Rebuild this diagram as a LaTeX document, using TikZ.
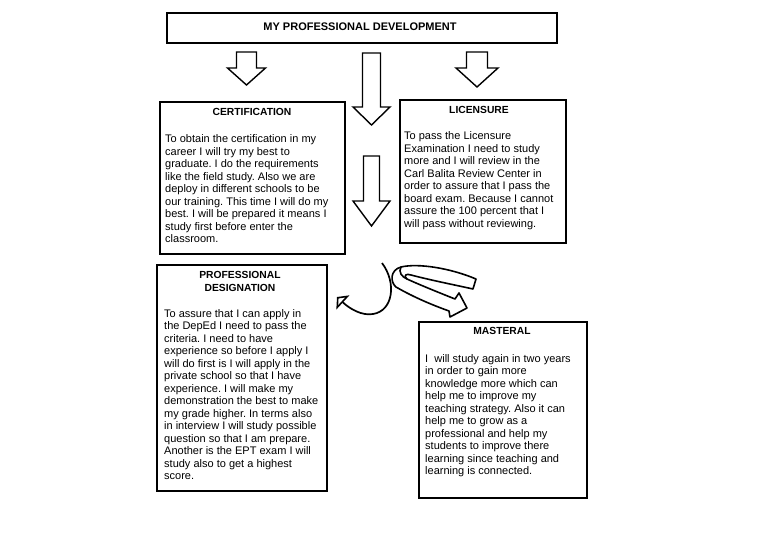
\documentclass[tikz,border=0pt]{standalone}
\usepackage{fontspec}
\setmainfont{Liberation Sans}
\usetikzlibrary{arrows.meta}
\frenchspacing
\tikzset{
  box/.style={draw, line width=2pt, anchor=north west, inner sep=0pt},
  headtext/.style={font=\fontsize{10.3}{13}\selectfont\bfseries, align=center, inner sep=0pt},
  titletext/.style={font=\fontsize{11}{13}\selectfont\bfseries, inner sep=0pt},
  bodytext/.style={font=\fontsize{11}{12.5}\selectfont, align=left, anchor=north west, inner sep=0pt},
  blockarrow/.style={draw, line width=1.4pt, fill=white, line join=miter},
  ribbon/.style={draw, line width=1.6pt, fill=white, line join=round},
  curvearrow/.style={line width=1.7pt, -{Triangle[open, length=8pt, width=19pt, line width=1.6pt]}}
}
\newcommand\mydownarrow[6]{% x, ytop, shaft half, head half, yhead, ytip
  \draw[blockarrow] (#1-#3,#2) -- (#1+#3,#2) -- (#1+#3,#5) -- (#1+#4,#5) -- (#1,#6) -- (#1-#4,#5) -- (#1-#3,#5) -- cycle;}
\begin{document}
\begin{tikzpicture}[x=1pt,y=-1pt]
\useasboundingbox (0,0) rectangle (768,543);

% title
\node[box, minimum width=390pt, minimum height=30pt] (title) at (166,12) {};
\node[titletext] (titlelabel) at (360,27) {MY PROFESSIONAL DEVELOPMENT};

% block arrows
\mydownarrow{246.5}{52}{10}{19}{68}{85}
\mydownarrow{371.5}{53}{9}{18.5}{107}{125}
\mydownarrow{477}{52}{10.5}{21}{68}{87}
\mydownarrow{371.5}{156}{8}{18.5}{201}{226}

% certification
\node[box, minimum width=185pt, minimum height=152pt] (cert) at (159,101) {};
\node[headtext] (certhead) at (252,112) {CERTIFICATION};
\node[bodytext] (certbody) at (165,134.5) {To obtain the certification in my\\
career I will try my best to\\
graduate. I do the requirements\\
like the field study. Also we are\\
deploy in different schools to be\\
our training. This time I will do my\\
best. I will be prepared it means I\\
study first before enter the\\
classroom.};

% licensure
\node[box, minimum width=166pt, minimum height=143pt] (lic) at (399,99) {};
\node[headtext] (lichead) at (479,110) {LICENSURE};
\node[bodytext] (licbody) at (404,131.5) {To pass the Licensure\\
Examination I need to study\\
more and I will review in the\\
Carl Balita Review Center in\\
order to assure that I pass the\\
board exam. Because I cannot\\
assure the 100 percent that I\\
will pass without reviewing.};

% professional designation
\node[box, minimum width=170pt, minimum height=226pt] (prof) at (156,264) {};
\node[headtext] (profhead) at (240,281.5) {PROFESSIONAL\\DESIGNATION};
\node[bodytext] (profbody) at (164,309) {To assure that I can apply in\\
the DepEd I need to pass the\\
criteria. I need to have\\
experience so before I apply I\\
will do first is I will apply in the\\
private school so that I have\\
experience. I will make my\\
demonstration the best to make\\
my grade higher. In terms also\\
in interview I will study possible\\
question so that I am prepare.\\
Another is the EPT exam I will\\
study also to get a highest\\
score.};

% masteral
\node[box, minimum width=168pt, minimum height=176pt] (mast) at (418,321) {};
\node[headtext] (masthead) at (502,331) {MASTERAL};
\node[bodytext] (mastbody) at (425,354) {I\ \ will study again in two years\\
in order to gain more\\
knowledge more which can\\
help me to improve my\\
teaching strategy. Also it can\\
help me to grow as a\\
professional and help my\\
students to improve there\\
learning since teaching and\\
learning is connected.};

% curved arrow to the left
\coordinate (cstart) at (382,263);
\coordinate (cend) at (337,297);
\draw[curvearrow] (cstart) .. controls (397,283) and (393,311) .. (373,314)
  .. controls (362,316) and (350,309) .. (cend);

% ribbon arrow to the right
\draw[ribbon] (476,279)
  .. controls (450,268) and (418,263) .. (401,267)
  .. controls (390,270) and (390,282) .. (396,287)
  .. controls (415,298) and (435,306) .. (449,311)
  -- (450,317) -- (467,308) -- (459,293) -- (455,299)
  .. controls (440,293) and (420,285) .. (407,279)
  .. controls (403,276) and (406,273) .. (411,275)
  .. controls (430,280) and (455,285) .. (473,289)
  -- cycle;
\draw[ribbon, fill=none] (401,267) .. controls (398,272) and (402,277) .. (407,279);
\end{tikzpicture}
\end{document}
